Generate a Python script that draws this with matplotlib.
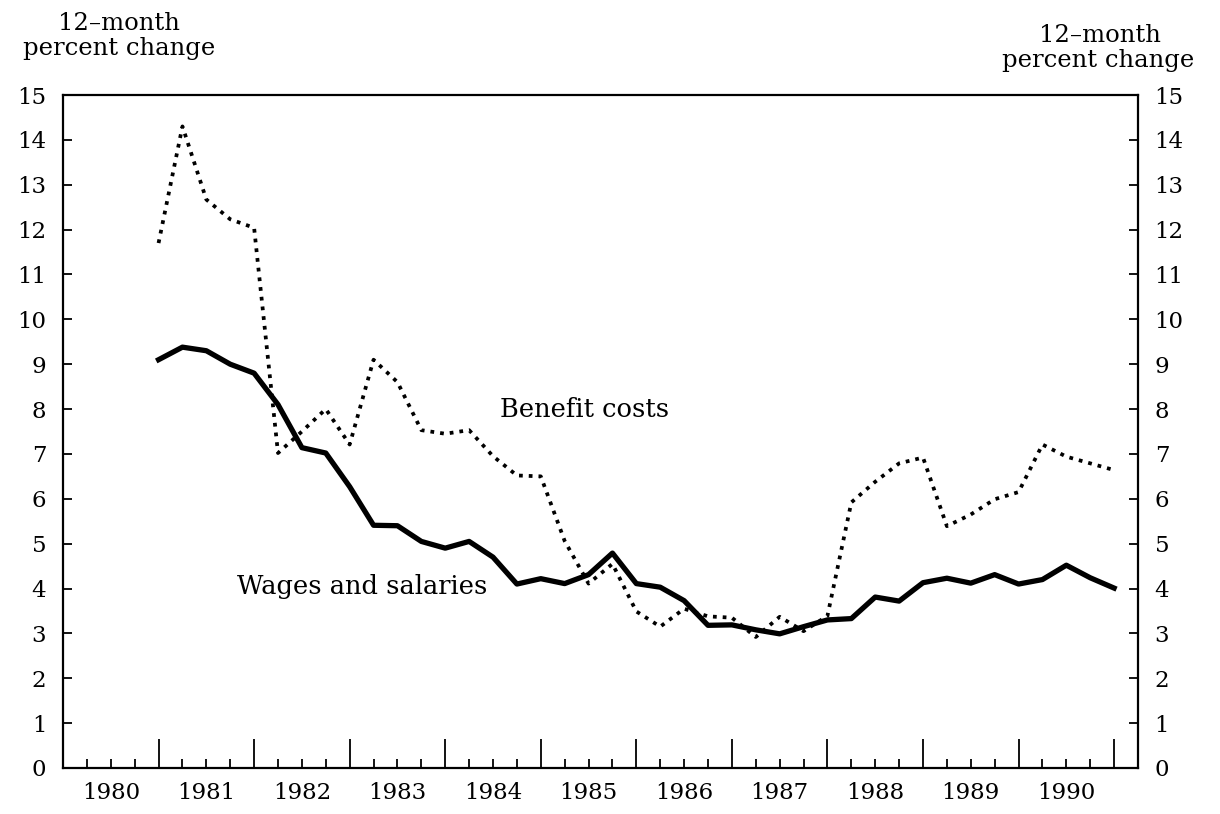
import matplotlib
matplotlib.use("Agg")
import matplotlib.pyplot as plt
import numpy as np

plt.rcParams['font.family'] = ['DejaVu Serif']

# quarterly observations, 1981 through 1991
quarters = 1981 + np.arange(41) * 0.25

wages = [9.1, 9.38, 9.3, 9.0, 8.8, 8.1, 7.14, 7.02, 6.27, 5.41,
         5.40, 5.05, 4.90, 5.05, 4.70, 4.10, 4.22, 4.11, 4.31, 4.79,
         4.11, 4.03, 3.73, 3.18, 3.19, 3.08, 2.99, 3.15, 3.30, 3.33,
         3.81, 3.72, 4.13, 4.23, 4.12, 4.31, 4.10, 4.20, 4.52, 4.24,
         4.01]

benefits = [11.7, 14.3, 12.67, 12.23, 12.04, 7.02, 7.5, 8.0, 7.21, 9.1,
            8.6, 7.53, 7.45, 7.53, 6.95, 6.52, 6.5, 5.06, 4.11, 4.55,
            3.49, 3.15, 3.55, 3.38, 3.35, 2.92, 3.37, 3.05, 3.39, 5.92,
            6.38, 6.79, 6.92, 5.39, 5.65, 5.99, 6.15, 7.21, 6.94, 6.79,
            6.64]

years = list(range(1980, 1991))
y_ticks = list(range(0, 16))

W, H = 1220, 814
fig = plt.figure(figsize=(W / 100, H / 100), dpi=100)
ax = fig.add_axes([63 / W, 1 - 768 / H, 1075 / W, 673 / H])

ax.plot(quarters, wages, color='black', lw=3.8)
ax.plot(quarters, benefits, color='black', lw=2.7,
        linestyle=(0, (1.0, 1.6)), dash_capstyle='butt')

ax.set_xlim(1980, 1991.25)
ax.set_ylim(0, 15)

# long ticks at year boundaries, short quarter ticks, year labels mid-year
ax.set_xticks([y + 1 for y in years])
ax.set_xticklabels([])
minor_pos = []
minor_lab = []
for y in years:
    for q in (0.25, 0.5, 0.75):
        minor_pos.append(y + q)
        minor_lab.append(str(y) if q == 0.5 else '')
ax.set_xticks(minor_pos, minor=True)
ax.set_xticklabels(minor_lab, minor=True)
ax.tick_params(axis='x', which='major', direction='in', length=21, width=1.3)
ax.tick_params(axis='x', which='minor', direction='in', length=6.5, width=1.3,
               pad=10, labelsize=16.5)

ax.set_yticks(y_ticks)
ax.tick_params(axis='y', direction='in', length=6.5, width=1.3,
               left=True, right=True, labelleft=True, labelright=True,
               pad=12, labelsize=16.5)

for s in ax.spines.values():
    s.set_linewidth(1.6)

ax.text(1984.57, 8.0, 'Benefit costs', fontsize=18.5, va='center', ha='left')
ax.text(1981.82, 4.05, 'Wages and salaries', fontsize=18.5, va='center', ha='left')

fig.text(119 / W, 1 - 23 / H, '12–month', fontsize=17.5, ha='center', va='center')
fig.text(119 / W, 1 - 48 / H, 'percent change', fontsize=17.5, ha='center', va='center')
fig.text(1100 / W, 1 - 35 / H, '12–month', fontsize=17.5, ha='center', va='center')
fig.text(1098 / W, 1 - 61 / H, 'percent change', fontsize=17.5, ha='center', va='center')

fig.savefig('out.png', dpi=100, facecolor='white')
